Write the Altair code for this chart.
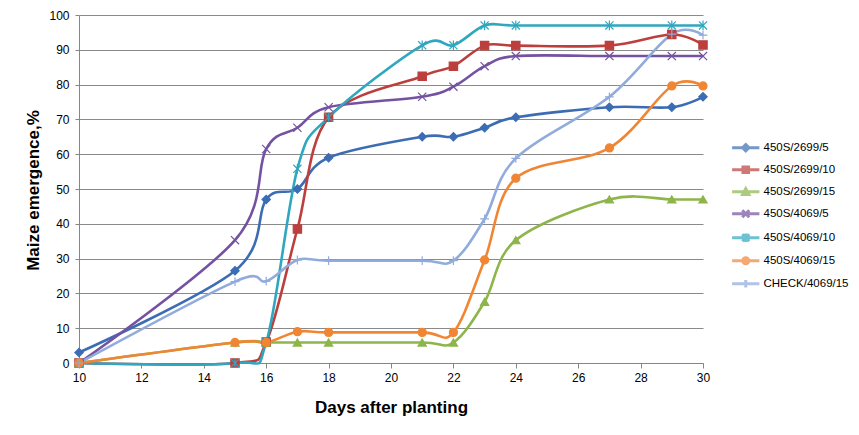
import altair as alt
import pandas as pd

days = [10, 15, 16, 17, 18, 21, 22, 23, 24, 27, 29, 30]
series_names = ["450S/2699/5", "450S/2699/10", "450S/2699/15", "450S/4069/5",
                "450S/4069/10", "450S/4069/15", "CHECK/4069/15"]
s_2699_5 = [3, 26.5, 47, 50, 59, 65, 65, 67.6, 70.6, 73.5, 73.5, 76.5]
s_2699_10 = [0, 0, 6, 38.5, 70.6, 82.4, 85.3, 91.2, 91.2, 91.2, 94.4, 91.4]
s_2699_15 = [0, 5.9, 5.9, 5.9, 5.9, 5.9, 5.9, 17.6, 35.3, 47, 47, 47]
s_4069_5 = [0, 35.3, 61.5, 67.6, 73.5, 76.5, 79.4, 85.3, 88.2, 88.2, 88.2, 88.2]
s_4069_10 = [0, 0, 5.9, 55.8, 70.6, 91.3, 91.3, 97, 97, 97, 97, 97]
s_4069_15 = [0, 5.9, 5.9, 9, 8.8, 8.8, 8.8, 29.6, 53.1, 61.8, 79.6, 79.6]
s_check = [0, 23.4, 23.5, 29.6, 29.4, 29.4, 29.4, 41.4, 58.8, 76.5, 94.5, 94.2]
values = [s_2699_5, s_2699_10, s_2699_15, s_4069_5, s_4069_10, s_4069_15, s_check]

x_ticks = list(range(10, 31, 2))
y_ticks = list(range(0, 101, 10))

colors = ["#3C6DB4", "#BC3F3D", "#8DB54A", "#7452A1", "#2FA7BF", "#F08634", "#90ABDC"]
marker_shapes = [
    "diamond", "square", "triangle-up",
    "M-1,-1L1,1M-1,1L1,-1",
    "M-1,-1L1,1M-1,1L1,-1M0,-1.2L0,1.2",
    "circle",
    "M0,-1.1L0,1.1M-1.1,0L1.1,0",
]
marker_sizes = [70, 64, 72, 72, 80, 90, 80]
L = "M-3.9,0L3.9,0"
legend_shapes = [
    L + "M0,-0.9L0.9,0L0,0.9L-0.9,0Z",
    L + "M-0.8,-0.8L0.8,-0.8L0.8,0.8L-0.8,0.8Z",
    L + "M0,-0.9L0.9,0.8L-0.9,0.8Z",
    L + "M-1,-1L1,1M-1,1L1,-1",
    L + "M-1,-1L1,1M-1,1L1,-1M0,-1.2L0,1.2",
    L + "M-0.85,0A0.85,0.85,0,1,0,0.85,0A0.85,0.85,0,1,0,-0.85,0Z",
    L + "M0,-1.1L0,1.1",
]

rows = []
for name, vals in zip(series_names, values):
    for d, v in zip(days, vals):
        rows.append({"day": d, "value": v, "series": name})
df = pd.DataFrame(rows)

FONT = "Liberation Sans"

x = alt.X("day:Q", scale=alt.Scale(domain=[10, 30], nice=False),
          axis=alt.Axis(values=x_ticks, grid=False, title="Days after planting",
                        titleFontSize=17, titleFontWeight="bold", titleFont=FONT,
                        titleColor="black", titleX=312, titleY=44,
                        titleBaseline="middle", titleAlign="center",
                        labelFontSize=12, labelFont=FONT, labelColor="black",
                        labelPadding=4, tickSize=5, tickColor="#868686",
                        domainColor="#868686", labelFlush=False))
y = alt.Y("value:Q", scale=alt.Scale(domain=[0, 100], nice=False),
          axis=alt.Axis(values=y_ticks, grid=True, gridColor="#8a8a8a",
                        title="Maize emergence,%", titleFontSize=17,
                        titleFontWeight="bold", titleFont=FONT, titleColor="black",
                        titleX=-46, titleY=175, titleAngle=270,
                        titleBaseline="middle", titleAlign="center",
                        labelFontSize=12, labelFont=FONT, labelColor="black",
                        labelPadding=6, tickSize=4, tickColor="#868686",
                        domainColor="#868686"))

color_scale = alt.Scale(domain=series_names, range=colors)

lines = alt.Chart(df).mark_line(interpolate="cardinal", strokeWidth=2.6).encode(
    x=x, y=y,
    color=alt.Color("series:N", scale=color_scale, legend=None),
    detail="series:N",
)

points = alt.Chart(df).mark_point(filled=True, strokeWidth=1.2, opacity=1).encode(
    x=x, y=y,
    color=alt.Color("series:N", scale=color_scale, legend=None),
    stroke=alt.Stroke("series:N", scale=color_scale, legend=None),
    shape=alt.Shape("series:N", scale=alt.Scale(domain=series_names, range=marker_shapes),
                    legend=None),
    size=alt.Size("series:N", scale=alt.Scale(domain=series_names, range=marker_sizes),
                  legend=None),
)

def make_legend():
    return alt.Legend(title=None, orient="none", legendX=661, legendY=127,
                      labelFont=FONT, labelFontSize=11.5,
                      labelColor="black", labelOffset=12,
                      symbolSize=49, symbolStrokeWidth=3,
                      rowPadding=3, padding=0)

legend_layer = alt.Chart(df).transform_filter("false").mark_point(
    filled=True, strokeWidth=3
).encode(
    color=alt.Color("series:N", scale=color_scale, legend=make_legend()),
    stroke=alt.Stroke("series:N", scale=color_scale, legend=make_legend()),
    shape=alt.Shape("series:N", scale=alt.Scale(domain=series_names, range=legend_shapes),
                    legend=make_legend()),
)

chart = alt.layer(lines, points, legend_layer).resolve_scale(
    color="independent", shape="independent", stroke="independent"
).properties(
    width=624, height=348,
    autosize=alt.AutoSizeParams(type="none"),
    padding={"left": 71, "top": 7, "right": 148, "bottom": 64},
    background="white",
).configure_view(stroke=None)

chart.save("out.html", embed_options={"renderer": "svg", "actions": False})
